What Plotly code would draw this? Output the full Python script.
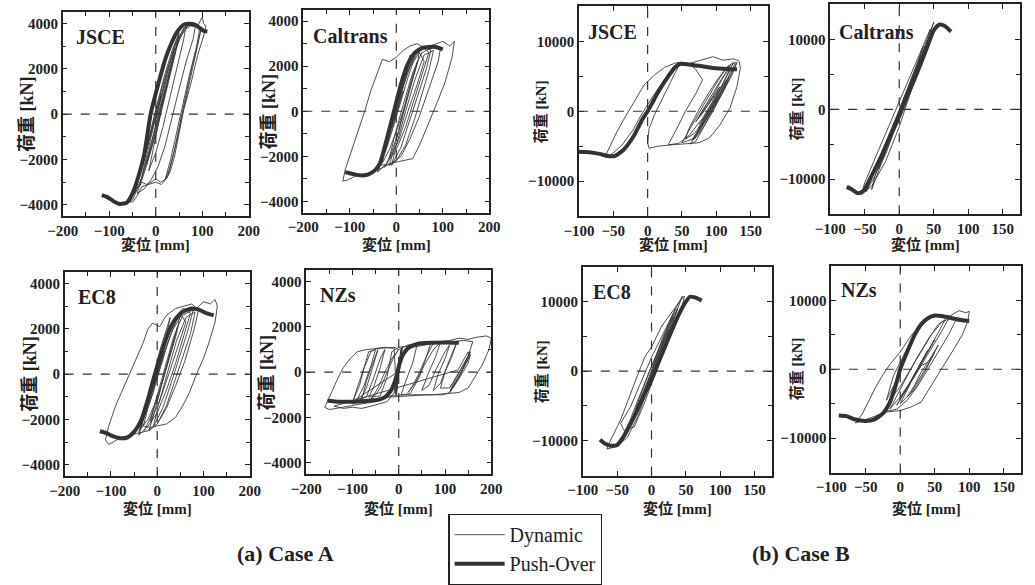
import plotly.graph_objects as go

# ---------------- data ----------------
# Case A - JSCE
jsce_a_dyn_x = [0, 12, -8, -20, 0, 25, 45, 60, 75, 90, 100, 103, 108, 105, 90, 75, 60, 50, 40, 30, 20, 10, 0, -10, -20, -30, -40, -50, -55, -45, -30, -15, 0, 15, 30, 45, 60, 75, 85, 80, 65, 50, 35, 20, 5, -10, -25, -40, -30, -15, 0, 15, 30, 45, 55, 65, 60, 45, 30, 15, 0, -15, -10, 0, 10, 20, 10, 0,
                20, 40, 50, 35, 15, -5, -20, -35, -25, -10, 5, 25, 40, 30, 10, -10, -30, -45, -35, -15, 5, 20, 35, 50, 40, 20, 0, -20, -8, 10,
                30, 50, 70, 85, 95, 88, 72, 58, 45, 32, 20, 30, 45, 60, 75, 90, 98, 92, 78, 63, 50, 38, 25, 12, 0, -15, -30, -40, -50]
jsce_a_dyn_y = [0, 900, -700, -1600, 200, 2000, 3200, 3800, 3950, 3900, 4300, 4000, 3900, 3600, 2600, 1300, 200, -900, -1900, -2600, -2900, -3000, -2850, -3000, -3100, -3000, -3300, -3800, -3900, -3300, -2400, -1200, -100, 900, 2000, 3000, 3700, 3900, 3850, 3300, 2300, 1100, -200, -1400, -2300, -2900, -3300, -3500, -2800, -1700, -600, 600, 1900, 3000, 3600, 3900, 3300, 2000, 700, -600, -1700, -2500, -2000, -1000, 0, 1000, 300, -200,
                1500, 3000, 3500, 2200, 500, -1200, -2300, -3200, -2300, -1000, 300, 1800, 2900, 1800, 200, -1500, -2800, -3500, -2600, -1100, 600, 1800, 2800, 3600, 2500, 800, -900, -2200, -1200, 400,
                1800, 3300, 3950, 3950, 3850, 3000, 1700, 400, -800, -2000, -2900, -2400, -1200, 200, 1600, 3000, 3800, 3300, 2100, 700, -600, -1800, -2800, -3100, -3000, -3100, -3200, -3600, -3900]
jsce_a_po_x = [-116, -105, -90, -77, -62, -50, -38, -25, -11, 5, 20, 35, 48, 60, 72, 85, 95, 103, 111]
jsce_a_po_y = [-3570, -3650, -3850, -3960, -3900, -3500, -2800, -1800, 0, 1300, 2400, 3200, 3700, 3950, 4000, 3950, 3800, 3680, 3650]

# Case A - Caltrans
cal_a_dyn_x = [0, 15, -10, -25, -5, 20, 40, 55, 70, 85, 95, 90, 70, 50, 30, 10, -10, -30, -50, -70, -90, -105, -115, -110, -95, -80, -68, -55, -40, -30, -15, 0, 15, 30, 45, 60, 80, 100, 115, 125, 120, 105, 90, 80, 65, 50, 35, 15, 0, -20, -35, -20, -5, 10, 25, 40, 50, 45, 30, 15, 0, -15, -30, -20, -5, 10, 25, 30, 20, 5, -10, 0,
               -40, -20, 0, 20, 40, 60, 70, 55, 40, 20, 0, -20, -40, -30, -10, 10, 30, 50, 60, 45, 25, 5, -15, -5, 15, 35, 55, 75, 65, 45, 30, 10, -10, 0, 20, 40, 60, 80, 70, 55, 40, 20, 0, -15, 0, 15, 30, 45, 35, 20, 5, -10, -25]
cal_a_dyn_y = [0, 900, -800, -1800, -200, 1500, 2500, 2900, 2750, 2900, 2800, 2200, 1000, -200, -1200, -2000, -2300, -2500, -2700, -2800, -2900, -3050, -3100, -2600, -1700, -800, 0, 900, 1800, 2300, 2200, 2400, 2700, 2900, 3000, 2800, 2950, 3100, 2900, 3100, 2400, 1300, 500, 0, -800, -1500, -2100, -2200, -2250, -2350, -2400, -1600, -600, 500, 1500, 2400, 2700, 2100, 1000, 0, -900, -1700, -2300, -1200, 0, 1200, 2200, 2500, 1500, 300, -700, 0,
               -2600, -1300, 300, 1600, 2500, 2800, 2600, 1600, 600, -700, -1700, -2300, -2700, -2000, -700, 800, 2000, 2600, 2200, 1200, 0, -1300, -2100, -1200, 300, 1700, 2600, 2800, 1900, 600, -400, -1600, -2400, -1500, 0, 1400, 2500, 2700, 1800, 700, -300, -1500, -2200, -2400, -1300, 0, 1200, 2200, 1400, 200, -900, -1800, -2500]
cal_a_po_x = [-110, -100, -90, -75, -60, -45, -35, -20, -5, 10, 25, 40, 55, 70, 85, 100]
cal_a_po_y = [-2700, -2750, -2800, -2850, -2800, -2600, -2300, -1200, 0, 1200, 2100, 2600, 2800, 2850, 2850, 2750]

# Case B - JSCE (None = pen lift between recorded segments)
jsce_b_dyn_x = [0, 10, -5, -20, -35, -50, -62, -55, -45, -35, -25, -15, -5, 10, 25, 40, 48, 40, 30, 20, 10, 2, 0, 2, 15, 35, 55, 75, 90, 105, 120, 130, 135, 133, 125, 110, 95, 85, 70, 60, 70, 80, 70, 55, 45, 35, 30, 45, 60, 80, 95, 110, 120, 125, 115, 100, 85, 70, 55, 50, 65, 80, 95, 110, 120, 118, 105, 90, 75, 60, 55, 70, 85, 100, 112, 120, 110, 95, 80, 70, 80, 95, 105, 100, 85, 75, 85, 95,
                108, 118, 128, 120, 105, 90, 78, 68, 80, 95, 110, 125, 130, 122, 108, 95, 80, 70, 62, 75, 90, 105, 115, 110, 95, 82, 72, 65, 78, 92, 106, 118, 112, 100, 88, 76, 90, 102, 98, 85, 75, None, 42, 25, 8, -8, -22, -38, -52, -60]
jsce_b_dyn_y = [0, 1500, -1000, -3500, -5500, -6300, -6500, -5000, -3000, -1200, 500, 2200, 3800, 5200, 6300, 6900, 7000, 5500, 3500, 1500, -500, -2500, -4500, -5300, -5000, -4800, -4700, -4500, -3800, -2000, 500, 3500, 6200, 7200, 7500, 7300, 7800, 7500, 7000, 6800, 6000, 4500, 2500, 0, -2000, -4000, -4800, -4600, -3500, -1000, 1500, 4000, 6000, 7000, 6300, 4000, 1500, -1000, -3500, -4500, -4000, -2000, 500, 3000, 5500, 6500, 5000, 2800, 300, -2500, -4000, -3000, -500, 2000, 4500, 6000, 5000, 2500, 0, -1500, -300, 2000, 3500, 2500, 500, -800, 800, 2200,
                4500, 6300, 7000, 5200, 3000, 500, -1800, -4000, -2500, 0, 2800, 6000, 7000, 5000, 2500, 0, -2500, -4300, -4700, -2800, 0, 2500, 4500, 3500, 1000, -1200, -3000, -4200, -2500, 0, 2500, 4800, 3500, 1200, -800, -2500, 0, 2000, 1200, -500, -1800, None, 6600, 4600, 2200, -300, -2800, -4900, -6100, -6400]
jsce_b_po_x = [-100, -85, -70, -58, -48, -35, -20, -8, 0, 10, 20, 30, 40, 48, 60, 75, 95, 115, 130]
jsce_b_po_y = [-5800, -5850, -6100, -6400, -6400, -5500, -3500, -1200, 0, 1800, 3500, 5000, 6300, 6800, 6700, 6500, 6200, 6050, 6000]

# Case B - Caltrans
cal_b_dyn_x = [0, 20, 40, 50, 45, 30, 15, 0, -20, -40, -55, -50, -35, -20, -5, 10, 25, 40, 45, 35, 20, 5, -10, -25, -40, -35, -20, -5, 10, 25, 35, 25, 10, -5, -20, -30, -15, 0, 15, 25, 10, -5,
               -20, -35, -48, -40, -25, -10, 5, 20, 35, 42, 30, 15, 0, -15, -30, -42, -30, -15, 0, 15, 30, 38, 28, 12, -3, -18, -33, -22, -8, 8, 22, 32, 20, 5, -10]
cal_b_dyn_y = [0, 5000, 9500, 12500, 11000, 6500, 2000, -2500, -7500, -11000, -12200, -10500, -7000, -3500, 0, 3500, 7000, 10500, 11500, 8500, 4500, 500, -3500, -7500, -11500, -9500, -5500, -1500, 2500, 6500, 9000, 6000, 2000, -2500, -6500, -8500, -4500, -500, 3500, 5800, 1500, -2000,
               -6000, -9500, -11800, -9800, -6200, -2800, 800, 4300, 7800, 9800, 7200, 3500, -200, -3800, -7400, -10300, -7200, -3600, 0, 3600, 7000, 8800, 6400, 2600, -1000, -4800, -8300, -5800, -2400, 1400, 4800, 7200, 4200, 800, -2800]
cal_b_po_x = [-76, -68, -60, -52, -40, -25, -10, 0, 10, 25, 40, 50, 58, 66, 75]
cal_b_po_y = [-11100, -11500, -12000, -11700, -9500, -6500, -3200, -1000, 1500, 5000, 8800, 11300, 12100, 11900, 11100]

# Case A - EC8
ec8_a_dyn_x = [0, 15, -10, -30, -10, 15, 35, 55, 75, 90, 80, 60, 40, 20, 0, -20, -40, -60, -80, -95, -105, -112, -105, -90, -75, -60, -45, -30, -20, -10, 5, 20, 40, 60, 75, 85, 100, 115, 125, 130, 125, 112, 100, 85, 70, 55, 40, 20, 0, -15, -30, -20, -5, 10, 25, 40, 50, 42, 28, 12, -5, -20, -35, -25, -10, 5, 20, 28, 18, 2, -12, 0,
               -40, -20, 0, 20, 40, 60, 72, 58, 40, 20, 0, -20, -40, -28, -8, 12, 32, 52, 62, 45, 25, 5, -15, -5, 15, 35, 55, 78, 66, 48, 30, 12, -8, 2, 22, 42, 62, 82, 72, 55, 38, 20, 0, -18, -2, 14, 30, 44, 34, 18, 2, -14, -28]
ec8_a_dyn_y = [0, 1000, -900, -2000, -500, 1300, 2400, 2900, 2800, 2900, 2000, 600, -500, -1500, -2200, -2500, -2600, -2700, -2800, -3000, -3100, -2900, -2300, -1400, -700, 0, 700, 1400, 2000, 2250, 2100, 2600, 2900, 3000, 3100, 2900, 3200, 3100, 3300, 3000, 2300, 1400, 700, 0, -800, -1400, -1900, -2200, -2300, -2350, -2300, -1500, -500, 500, 1500, 2300, 2700, 1800, 800, -300, -1300, -2000, -2400, -1500, -200, 1000, 2000, 2500, 1500, 200, -800, 0,
               -2600, -1300, 200, 1500, 2400, 2800, 2700, 1700, 500, -700, -1700, -2300, -2700, -1900, -600, 800, 1900, 2600, 2300, 1200, 0, -1200, -2100, -1300, 200, 1600, 2600, 2850, 1900, 700, -400, -1500, -2300, -1400, 100, 1500, 2500, 2750, 1800, 700, -300, -1400, -2200, -2500, -1400, -100, 1100, 2100, 1300, 100, -1000, -1900, -2500]
ec8_a_po_x = [-124, -110, -95, -80, -65, -50, -35, -20, -5, 10, 25, 40, 55, 74, 90, 105, 122]
ec8_a_po_y = [-2520, -2600, -2750, -2830, -2800, -2550, -2050, -1100, 0, 1000, 1900, 2450, 2750, 2900, 2850, 2700, 2600]

# Case A - NZs
nzs_a_dyn_x = [0, 10, 30, 60, 90, 110, 130, 150, 170, 190, 200, 195, 180, 165, 150, 130, 100, 70, 40, 10, -20, -50, -80, -110, -130, -150, -160, -150, -140, -130, -120, -105, -90, -70, -40, -10, 0, -10, -25, -40, -50, -60, -45, -30, -15, 0, 20, 50, 70, 60, 45, 30, 20, 35, 55, 75, 90, 80, 65, 50, 65, 80, 100, 110, 100, 85, 75, 90, 105, 120, 125, 115, 100, 90, 110, 130, 150, 155, 140, 120, 110, 95, 60, 20, -20, -50, -80, -70, -55, -45, -55, -70, -85, -100, -90, -75, -60, -50, -30, -10, -5, 5, -5, 8, -3,
               -100, -85, -75, -65, -50, -60, -75, -90, -70, -55, -40, -30, -40, -55, -65, -40, -25, -15, 0, 20, 40, 30, 15, 5, 25, 45, 60, 75, 100, 120, 140, 160, 150, 135, 120, 110, 130, 150, 155, 140, 120, 112, 132, 152, 150, 128,
               -140, -120, -100, -80, -60, -40, -25, -10, 5, -8, 6, -6, 4]
nzs_a_dyn_y = [0, 900, 1100, 1200, 1300, 1400, 1500, 1450, 1550, 1600, 1500, 1000, 300, -200, -700, -900, -950, -1000, -1000, -1000, -1050, -1300, -1400, -1500, -1550, -1650, -1550, -1100, -600, -200, 200, 600, 900, 1000, 1050, 1100, 1000, 700, 0, -700, -1000, -1200, -700, 0, 600, 1000, 1200, 1300, 1350, 700, 0, -600, -900, -500, 300, 1000, 1300, 700, 0, -800, -600, 100, 900, 1200, 600, -100, -800, -500, 300, 1100, 1300, 700, 0, -700, -700, 0, 700, 900, 300, -400, -900, -1000, -1000, -1050, -1100, -1200, -1200, -400, 500, 1000, 300, -700, -1300, -1400, -700, 200, 900, 1050, 1100, 1050, -1000, 1000, -900, 1100, 0,
               -1300, -600, 200, 900, 1000, 300, -600, -1200, -1100, -300, 600, 1000, 200, -700, -1100, -1050, -200, 900, 1100, 1150, 1250, 400, -400, -1000, -950, -200, 700, 1300, 1350, 1350, 1400, 1350, 700, 0, -600, -900, -300, 400, 800, 200, -500, -800, -150, 650, 900, 100,
               -1500, -1600, -1550, -1600, -1500, -1400, -1300, -900, 900, -950, 1050, -1000, 950]
nzs_a_po_x = [-154, -130, -100, -70, -45, -30, -18, -10, -4, 2, 10, 22, 40, 70, 100, 130]
nzs_a_po_y = [-1260, -1300, -1300, -1270, -1220, -1100, -850, -500, -100, 400, 800, 1100, 1250, 1300, 1310, 1300]

# Case B - EC8
ec8_b_dyn_x = [0, 15, 30, 45, 40, 25, 10, -5, -20, -35, -50, -65, -60, -45, -32, -20, -10, 0, 15, 30, 42, 48, 45, 35, 20, 5, -10, -25, -40, -45, -30, -15, 0, 15, 30, 35, 25, 10, -5, -20, -30, -20, -5, 10, 25, 15, 0,
               -15, -30, -42, -32, -18, -3, 12, 27, 38, 30, 15, 0, -15, -28, -36, -24, -10, 5, 20, 32, 24, 10, -5, -20]
ec8_b_dyn_y = [0, 4500, 8000, 10800, 9500, 5500, 1500, -2500, -6500, -9500, -10800, -11200, -10000, -7000, -3500, -500, 2000, 3500, 6500, 8500, 10200, 10800, 9500, 7000, 3500, -500, -4500, -8000, -8500, -7500, -5000, -1500, 2000, 5000, 8000, 9000, 6500, 2500, -1500, -5000, -7500, -4500, -500, 3000, 6000, 3500, 0,
               -4200, -7600, -9300, -7200, -3700, 0, 3600, 7000, 9000, 6800, 3000, -800, -4500, -7400, -8600, -5800, -2400, 1300, 5000, 7800, 5600, 2000, -1800, -5500]
ec8_b_po_x = [-75, -68, -60, -50, -40, -25, -10, 0, 10, 25, 40, 50, 56, 63, 73]
ec8_b_po_y = [-9860, -10400, -10700, -10600, -9300, -6500, -3300, -1200, 1200, 4800, 8200, 10000, 10700, 10600, 10140]

# Case B - NZs
nzs_b_dyn_x = [0, 10, -5, -20, -10, 10, 25, 40, 55, 70, 85, 95, 100, 98, 90, 75, 60, 45, 30, 15, 0, -20, -40, -55, -65, -55, -45, -35, -25, -15, 0, 15, 30, 45, 60, 75, 80, 70, 55, 40, 25, 10, -5, -25, -15, 0, 15, 30, 45, 60, 70, 60, 45, 30, 15, 5, 0, 15, 30, 45, 55, 45, 30, 20, 10, 20, 35, 50, 40, 30,
               15, 0, -15, -5, 10, 25, 40, 55, 65, 55, 40, 25, 10, -5, 5, 20, 35, 50, 42, 28, 14, 0, 12, 26, 40, 32, 18]
nzs_b_dyn_y = [0, 2500, -1500, -4500, -1000, 3000, 5500, 7300, 7800, 7600, 8500, 8200, 8400, 7000, 5000, 2500, 0, -2500, -4800, -5500, -6000, -6200, -7000, -7500, -7800, -6500, -4500, -2500, -800, 700, 2500, 4800, 6500, 7500, 7800, 7600, 7000, 5000, 2500, 0, -2500, -4500, -5800, -6200, -4500, -2500, 0, 2500, 5000, 6800, 7300, 5500, 3000, 500, -2000, -4000, -5000, -3500, -1000, 1500, 3500, 1800, -500, -2500, -4000, -3000, -500, 2500, 1000, 500,
               -1800, -4000, -5800, -3800, -1000, 1800, 4300, 6500, 7200, 5300, 2600, -200, -2800, -5200, -3500, -800, 1800, 4300, 3000, 500, -2000, -4300, -2400, 200, 2800, 1300, -1200]
nzs_b_po_x = [-89, -78, -65, -50, -38, -25, -15, -7, 0, 10, 20, 30, 40, 50, 62, 75, 90, 100]
nzs_b_po_y = [-6700, -6800, -7300, -7500, -7300, -6400, -4800, -2500, 0, 2500, 4800, 6500, 7400, 7800, 7700, 7400, 7100, 7000]

panel_names = ["JSCE", "Caltrans", "JSCE", "Caltrans", "EC8", "NZs", "EC8", "NZs"]
x_title = "変位 [mm]"
y_title = "荷重 [kN]"
legend_names = ["Dynamic", "Push-Over"]
case_labels = ["(a) Case A", "(b) Case B"]

# ---------------- layout helpers ----------------
W, H = 1035, 585
FONT = "Liberation Serif, Times New Roman, Noto Sans CJK JP, serif"

panels = [
    (jsce_a_dyn_x, jsce_a_dyn_y, jsce_a_po_x, jsce_a_po_y, (48, 239, 12.5, 219.5), "A"),
    (cal_a_dyn_x, cal_a_dyn_y, cal_a_po_x, cal_a_po_y, (295, 486, 10, 216), "A"),
    (jsce_b_dyn_x, jsce_b_dyn_y, jsce_b_po_x, jsce_b_po_y, (578, 772, 6.5, 219.5), "B"),
    (cal_b_dyn_x, cal_b_dyn_y, cal_b_po_x, cal_b_po_y, (836, 1031, 4.5, 217.5), "B"),
    (ec8_a_dyn_x, ec8_a_dyn_y, ec8_a_po_x, ec8_a_po_y, (50, 240, 276.5, 483.5), "A"),
    (nzs_a_dyn_x, nzs_a_dyn_y, nzs_a_po_x, nzs_a_po_y, (298, 488, 274.5, 481.5), "A"),
    (ec8_b_dyn_x, ec8_b_dyn_y, ec8_b_po_x, ec8_b_po_y, (582, 776, 271, 483), "B"),
    (nzs_b_dyn_x, nzs_b_dyn_y, nzs_b_po_x, nzs_b_po_y, (837, 1032, 270, 480), "B"),
]

label_pos = [(60, 38), (303, 37), (585, 33), (843, 33), (62, 302), (310, 300), (590, 297), (845, 295)]
ytitle_x = [12, 260, 538, 801, 15, 258, 539, 801]

fig = go.Figure()
annotations = []
shapes = []
layout = {}

def px2x(p):
    return p / W

def px2y(p):
    return 1 - p / H

for i, (dx, dy, px_, py_, (L, R, T, B), case) in enumerate(panels):
    n = i + 1
    xa = "x" if n == 1 else f"x{n}"
    ya = "y" if n == 1 else f"y{n}"
    fig.add_trace(go.Scatter(x=dx, y=dy, mode="lines", xaxis=xa, yaxis=ya,
                             line=dict(color="#3a3a3a", width=0.9), connectgaps=False,
                             name=legend_names[0], showlegend=(n == 1)))
    fig.add_trace(go.Scatter(x=px_, y=py_, mode="lines", xaxis=xa, yaxis=ya,
                             line=dict(color="#333333", width=4, shape="spline", smoothing=0.6),
                             name=legend_names[1], showlegend=(n == 1)))
    if case == "A":
        xr, xd, xm = [-200, 200], 100, 50
        yr, yd, ym = [-4500, 4500], 2000, 1000
        ytf = 18
    else:
        xr, xd, xm = [-100, 175], 50, 50
        yr, yd, ym = [-15000, 15000], 10000, 5000
        ytf = 15
    common = dict(showline=True, linecolor="#222", linewidth=1.5, mirror="ticks",
                  ticks="inside", ticklen=5, tickwidth=1, tickcolor="#222",
                  showgrid=False, zeroline=False, exponentformat="none",
                  separatethousands=False, tickformat="d",
                  tickfont=dict(family=FONT, size=15, color="#222", weight="bold"))
    layout["xaxis" if n == 1 else f"xaxis{n}"] = dict(
        domain=[px2x(L), px2x(R)], range=xr, dtick=xd, tick0=0,
        anchor=ya, minor=dict(ticks="inside", dtick=xm, ticklen=4, tickcolor="#222"),
        **common)
    layout["yaxis" if n == 1 else f"yaxis{n}"] = dict(
        domain=[px2y(B), px2y(T)], range=yr, dtick=yd, tick0=0,
        anchor=xa, minor=dict(ticks="inside", dtick=ym, ticklen=4, tickcolor="#222"),
        **common)
    shapes.append(dict(type="line", xref=f"{xa} domain", yref=ya, x0=0, x1=1, y0=0, y1=0,
                       line=dict(color="#333", width=1.2, dash="dash")))
    shapes.append(dict(type="line", xref=xa, yref=f"{ya} domain", x0=0, x1=0, y0=0, y1=1,
                       line=dict(color="#333", width=1.2, dash="dash")))
    lx, ly = label_pos[i]
    annotations.append(dict(text=panel_names[i], x=px2x(lx), y=px2y(ly), xref="paper", yref="paper",
                            xanchor="left", yanchor="middle", showarrow=False,
                            font=dict(family=FONT, size=20, color="#222", weight="bold")))
    xt_y = 248 if T < 100 else 516
    annotations.append(dict(text=x_title, x=px2x((L + R) / 2), y=px2y(xt_y), xref="paper", yref="paper",
                            xanchor="center", yanchor="middle", showarrow=False,
                            font=dict(family=FONT, size=15, color="#222", weight="bold")))
    annotations.append(dict(text=y_title, x=px2x(ytitle_x[i]), y=px2y((T + B) / 2), xref="paper", yref="paper",
                            xanchor="center", yanchor="middle", showarrow=False, textangle=-90,
                            font=dict(family=FONT, size=ytf, color="#222", weight="bold")))

annotations.append(dict(text=case_labels[0], x=px2x(277), y=px2y(562), xref="paper", yref="paper",
                        xanchor="center", yanchor="middle", showarrow=False,
                        font=dict(family=FONT, size=22, color="#222", weight="bold")))
annotations.append(dict(text=case_labels[1], x=px2x(806), y=px2y(562), xref="paper", yref="paper",
                        xanchor="center", yanchor="middle", showarrow=False,
                        font=dict(family=FONT, size=22, color="#222", weight="bold")))

fig.update_layout(
    width=W, height=H,
    margin=dict(l=0, r=0, t=0, b=0),
    paper_bgcolor="white", plot_bgcolor="white",
    showlegend=True,
    legend=dict(x=px2x(444), y=px2y(522), xanchor="left", yanchor="top",
                bordercolor="#222", borderwidth=1.2, bgcolor="white",
                font=dict(family=FONT, size=20, color="#222"),
                itemwidth=50, tracegroupgap=0),
    annotations=annotations,
    shapes=shapes,
    **layout,
)

fig.write_html("out.html")
